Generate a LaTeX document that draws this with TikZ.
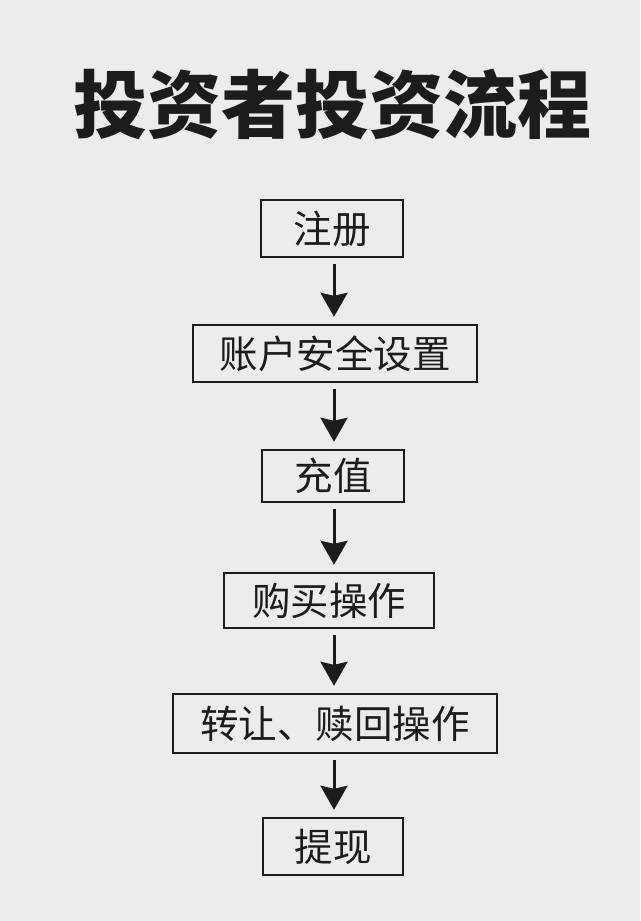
\documentclass[tikz,border=0pt]{standalone}
\usepackage{fontspec}
\newfontfamily\cjk{Noto Sans CJK SC}
\usetikzlibrary{arrows.meta}
\definecolor{bggray}{HTML}{ECECEC}
\definecolor{ink}{HTML}{1C1C1C}
\tikzset{stepbox/.style={draw=ink, line width=2.4pt, inner sep=0pt, minimum height=#1, font=\cjk\fontsize{38.5}{38.5}\selectfont, text=ink},
  flow/.style={draw=ink, line width=3pt, -{Stealth[length=24pt, width=27pt, inset=3pt]}, shorten <=6pt, shorten >=7pt}}

\begin{document}
\begin{tikzpicture}[x=1pt, y=-1pt]
\fill[bggray] (0,0) rectangle (640,921);
\useasboundingbox (0,0) rectangle (640,921);
\node[font=\cjk\bfseries\fontsize{74}{74}\selectfont, text=ink] (title) at (332,104) {投资者投资流程};
\node[stepbox=57pt, minimum width=142pt] (reg) at (332,228.5) {注册};
\node[stepbox=57pt, minimum width=284pt] (safe) at (335,353.5) {账户安全设置};
\node[stepbox=52pt, minimum width=142pt] (topup) at (333,476) {充值};
\node[stepbox=55pt, minimum width=210pt] (buy) at (329,600.5) {购买操作};
\node[stepbox=59pt, minimum width=324pt] (redeem) at (335,723.5) {转让、赎回操作};
\node[stepbox=57pt, minimum width=140pt] (cash) at (333,846.5) {提现};
\coordinate (axis) at (334,0);
\draw[flow] (reg.south -| axis) -- (safe.north -| axis);
\draw[flow] (safe.south -| axis) -- (topup.north -| axis);
\draw[flow] (topup.south -| axis) -- (buy.north -| axis);
\draw[flow] (buy.south -| axis) -- (redeem.north -| axis);
\draw[flow] (redeem.south -| axis) -- (cash.north -| axis);
\end{tikzpicture}
\end{document}
